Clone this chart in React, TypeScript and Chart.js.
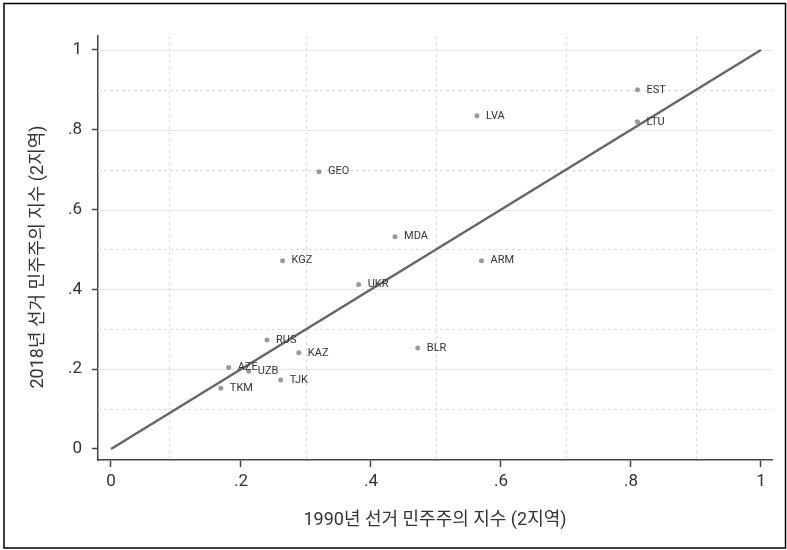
import React, { useEffect, useRef } from 'react';
import { Chart, registerables } from 'chart.js';
Chart.register(...registerables);

const countries = ['EST', 'LTU', 'LVA', 'GEO', 'MDA', 'KGZ', 'ARM', 'UKR', 'BLR', 'RUS', 'KAZ', 'AZE', 'UZB', 'TJK', 'TKM'];
const x1990 = [0.81, 0.81, 0.563, 0.32, 0.437, 0.264, 0.57, 0.381, 0.472, 0.24, 0.289, 0.181, 0.212, 0.261, 0.169];
const y2018 = [0.9, 0.82, 0.835, 0.695, 0.532, 0.472, 0.472, 0.412, 0.253, 0.273, 0.241, 0.204, 0.195, 0.173, 0.152];
const fitX = [0, 1];
const fitY = [0, 1];
const tickValues = [0, 0.2, 0.4, 0.6, 0.8, 1];
const yMajorGrid = [0.2, 0.4, 0.6, 0.8, 1];
const yMinorGrid = [0.1, 0.3, 0.5, 0.7, 0.9];
const xMinorGrid = [0.09, 0.3, 0.5, 0.7, 0.9];
const xTitle = '1990년 선거 민주주의 지수 (2지역)';
const yTitle = '2018년 선거 민주주의 지수 (2지역)';

const FONT = "Roboto, 'Noto Sans CJK KR', sans-serif";

const fmt = (v: number) => {
  if (v === 0) return '0';
  if (v === 1) return '1';
  return String(Math.round(v * 10) / 10).replace(/^0/, '');
};

const framePlugin = {
  id: 'frame',
  beforeDraw(chart: any) {
    const { ctx, width, height } = chart;
    ctx.save();
    ctx.fillStyle = '#ffffff';
    ctx.fillRect(0, 0, width, height);
    ctx.restore();
  },
  afterDraw(chart: any) {
    const { ctx } = chart;
    ctx.save();
    ctx.strokeStyle = '#000000';
    ctx.lineWidth = 1.5;
    ctx.strokeRect(4, 3.5, 781.5, 544.5);
    ctx.translate(38, 257);
    ctx.rotate(-Math.PI / 2);
    ctx.font = `18px ${FONT}`;
    ctx.fillStyle = '#333333';
    ctx.textAlign = 'center';
    ctx.textBaseline = 'middle';
    ctx.fillText(yTitle, 0, 0);
    ctx.restore();
  },
};

const gridPlugin = {
  id: 'customGrid',
  beforeDatasetsDraw(chart: any) {
    const { ctx, chartArea, scales } = chart;
    const xs = scales.x;
    const ys = scales.y;
    ctx.save();
    ctx.lineWidth = 1;
    ctx.strokeStyle = '#e6e6e6';
    ctx.setLineDash([]);
    yMajorGrid.forEach((v) => {
      const py = Math.round(ys.getPixelForValue(v)) + 0.5;
      ctx.beginPath();
      ctx.moveTo(chartArea.left, py);
      ctx.lineTo(chartArea.right, py);
      ctx.stroke();
    });
    ctx.strokeStyle = '#dcdcdc';
    ctx.setLineDash([3, 3]);
    yMinorGrid.forEach((v) => {
      const py = Math.round(ys.getPixelForValue(v)) + 0.5;
      ctx.beginPath();
      ctx.moveTo(chartArea.left, py);
      ctx.lineTo(chartArea.right, py);
      ctx.stroke();
    });
    xMinorGrid.forEach((v) => {
      const px = Math.round(xs.getPixelForValue(v)) + 0.5;
      ctx.beginPath();
      ctx.moveTo(px, chartArea.top);
      ctx.lineTo(px, chartArea.bottom);
      ctx.stroke();
    });
    ctx.restore();
  },
};

const labelPlugin = {
  id: 'pointLabels',
  afterDatasetsDraw(chart: any) {
    const { ctx } = chart;
    const meta = chart.getDatasetMeta(0);
    ctx.save();
    ctx.font = `11px ${FONT}`;
    ctx.fillStyle = '#333333';
    ctx.textAlign = 'left';
    ctx.textBaseline = 'middle';
    meta.data.forEach((el: any, i: number) => {
      ctx.fillText(countries[i], el.x + 9, el.y);
    });
    ctx.restore();
  },
};

export default function App() {
  const ref = useRef<HTMLCanvasElement>(null);
  useEffect(() => {
    if (!ref.current) return;
    const chart = new Chart(ref.current, {
      type: 'scatter',
      data: {
        datasets: [
          {
            type: 'scatter',
            data: countries.map((_, i) => ({ x: x1990[i], y: y2018[i] })),
            backgroundColor: '#9a9a9a',
            borderColor: '#9a9a9a',
            pointRadius: 2.5,
            borderWidth: 0,
            order: 1,
          },
          {
            type: 'line',
            data: fitX.map((x, i) => ({ x, y: fitY[i] })),
            borderColor: '#666666',
            borderWidth: 2.5,
            pointRadius: 0,
            fill: false,
            order: 0,
          } as any,
        ],
      },
      options: {
        animation: false,
        responsive: false,
        maintainAspectRatio: false,
        layout: { padding: { left: 0, top: 36, right: 15, bottom: 0 } },
        plugins: {
          legend: { display: false },
          tooltip: { enabled: false },
        },
        scales: {
          x: {
            type: 'linear',
            min: -0.02,
            max: 1.017,
            afterBuildTicks: (s: any) => {
              s.ticks = tickValues.map((v) => ({ value: v }));
            },
            afterFit: (s: any) => {
              s.height = 90;
            },
            grid: {
              drawOnChartArea: false,
              drawTicks: true,
              tickLength: 7,
              tickWidth: 1.5,
              tickColor: '#444444',
            },
            border: { display: true, color: '#444444', width: 1.5 },
            ticks: {
              font: { family: FONT, size: 17 },
              color: '#333333',
              padding: 5,
              maxRotation: 0,
              autoSkip: false,
              callback: (v: any) => fmt(Number(v)),
            },
            title: {
              display: true,
              text: xTitle,
              font: { family: FONT, size: 18 },
              color: '#333333',
              padding: { top: 0, bottom: 19 },
            },
          },
          y: {
            type: 'linear',
            min: -0.0276,
            max: 1.035,
            afterBuildTicks: (s: any) => {
              s.ticks = tickValues.map((v) => ({ value: v }));
            },
            afterFit: (s: any) => {
              s.width = 98;
            },
            grid: {
              drawOnChartArea: false,
              drawTicks: true,
              tickLength: 6,
              tickWidth: 1.5,
              tickColor: '#444444',
            },
            border: { display: true, color: '#444444', width: 1.5 },
            ticks: {
              font: { family: FONT, size: 17 },
              color: '#333333',
              padding: 10,
              autoSkip: false,
              callback: (v: any) => fmt(Number(v)),
            },
            title: { display: false },
          },
        },
      },
      plugins: [framePlugin, gridPlugin, labelPlugin],
    } as any);
    return () => chart.destroy();
  }, []);
  return (
    <div style={{ position: 'absolute', left: 0, top: 0, width: 787, height: 550 }}>
      <canvas ref={ref} width={787} height={550} style={{ display: 'block', width: 787, height: 550 }} />
    </div>
  );
}
